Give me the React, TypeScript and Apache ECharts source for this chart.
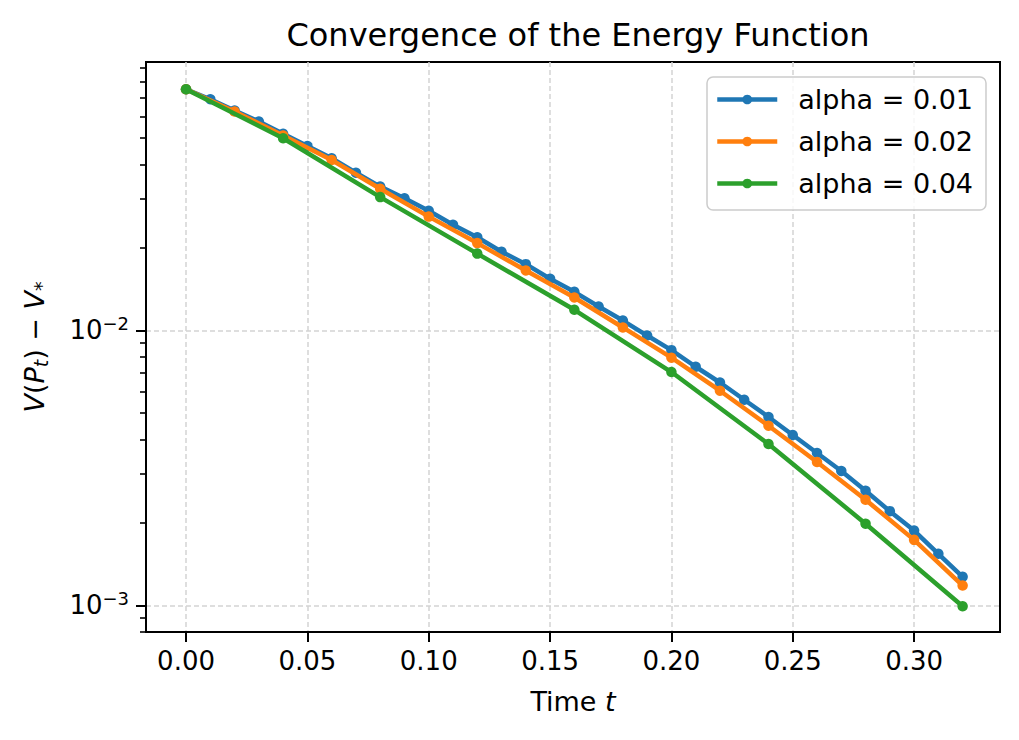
import React, { useEffect, useRef } from "react";
import * as echarts from "echarts";

const FONT = "DejaVu Sans";

const tAlpha001 = [0.0, 0.01, 0.02, 0.03, 0.04, 0.05, 0.06, 0.07, 0.08, 0.09, 0.1, 0.11, 0.12, 0.13, 0.14, 0.15, 0.16, 0.17, 0.18, 0.19, 0.2, 0.21, 0.22, 0.23, 0.24, 0.25, 0.26, 0.27, 0.28, 0.29, 0.3, 0.31, 0.32];
const vAlpha001 = [0.0752, 0.0692, 0.063, 0.0574, 0.0518, 0.0468, 0.0422, 0.0374, 0.0333, 0.0302, 0.0272, 0.0242, 0.0218, 0.0193, 0.0174, 0.0154, 0.0138, 0.0122, 0.01085, 0.00957, 0.00847, 0.00737, 0.00646, 0.00559, 0.00484, 0.00416, 0.00358, 0.00308, 0.00261, 0.0022, 0.00187, 0.00154, 0.00127];

const tAlpha002 = [0.0, 0.02, 0.04, 0.06, 0.08, 0.1, 0.12, 0.14, 0.16, 0.18, 0.2, 0.22, 0.24, 0.26, 0.28, 0.3, 0.32];
const vAlpha002 = [0.0752, 0.0624, 0.0511, 0.0416, 0.0327, 0.0259, 0.02075, 0.0165, 0.01316, 0.01024, 0.00795, 0.00603, 0.0045, 0.00332, 0.00242, 0.00173, 0.00118];

const tAlpha004 = [0.0, 0.04, 0.08, 0.12, 0.16, 0.2, 0.24, 0.28, 0.32];
const vAlpha004 = [0.0752, 0.0499, 0.0305, 0.019, 0.01187, 0.00705, 0.00386, 0.00198, 0.000992];

const seriesNames = ["alpha = 0.01", "alpha = 0.02", "alpha = 0.04"];
const seriesColors = ["#1f77b4", "#ff7f0e", "#2ca02c"];

const xTicks = [0.0, 0.05, 0.1, 0.15, 0.2, 0.25, 0.3];
const yMajorTicks = [0.001, 0.01];
const yMinorTicks = [0.0008, 0.0009, 0.002, 0.003, 0.004, 0.005, 0.006, 0.007, 0.008, 0.009, 0.02, 0.03, 0.04, 0.05, 0.06, 0.07, 0.08, 0.09];
const yTickLabels: Record<string, string> = { "0.001": "10{sup|−3}", "0.01": "10{sup|−2}" };

const X_MIN = -0.0165;
const X_MAX = 0.3354;
const Y_MIN = 0.0008;
const Y_MAX = 0.0945;

function pairs(xs: number[], ys: number[]) {
  return xs.map((x, i) => [x, ys[i]]);
}

export default function App() {
  const ref = useRef<HTMLDivElement>(null);
  useEffect(() => {
    if (!ref.current) return;
    const chart = echarts.init(ref.current, null, { renderer: "svg" });
    const gridLine = { show: true, lineStyle: { color: "#d4d4d4", width: 1.5, type: [5, 3] } };
    const datasets = [pairs(tAlpha001, vAlpha001), pairs(tAlpha002, vAlpha002), pairs(tAlpha004, vAlpha004)];
    chart.setOption({
      animation: false,
      backgroundColor: "#ffffff",
      textStyle: { fontFamily: FONT },
      title: {
        text: "Convergence of the Energy Function",
        left: 573,
        top: 14,
        textAlign: "center",
        textStyle: { fontFamily: FONT, fontSize: 32, fontWeight: "normal", color: "#000" },
      },
      grid: {
        left: 146,
        right: 19,
        top: 62,
        bottom: 108,
        show: true,
        borderColor: "#000",
        borderWidth: 2,
        backgroundColor: "transparent",
      },
      legend: {
        orient: "vertical",
        left: 707,
        top: 77,
        padding: [9, 13, 13, 8],
        itemGap: 15,
        itemWidth: 60,
        itemHeight: 12,
        backgroundColor: "rgba(255,255,255,0.8)",
        borderColor: "#cccccc",
        borderWidth: 1.5,
        borderRadius: 6,
        lineStyle: { width: 4.5 },
        textStyle: { fontFamily: FONT, fontSize: 27, color: "#000", padding: [0, 0, 0, 16] },
        data: seriesNames,
      },
      xAxis: {
        type: "value",
        min: X_MIN,
        max: X_MAX,
        name: "Time {it|t}",
        nameLocation: "middle",
        nameGap: 56,
        nameTextStyle: {
          fontFamily: FONT,
          fontSize: 27,
          color: "#000",
          rich: { it: { fontFamily: FONT, fontSize: 27, fontStyle: "italic", color: "#000" } },
        },
        axisLine: { show: true, onZero: false, lineStyle: { color: "#000", width: 2 } },
        axisTick: { show: true, length: 10, lineStyle: { color: "#000", width: 2 }, customValues: xTicks },
        axisLabel: {
          customValues: xTicks,
          margin: 16,
          fontFamily: FONT,
          fontSize: 26,
          color: "#000",
          formatter: (v: number) => v.toFixed(2),
        },
        splitLine: gridLine,
      },
      yAxis: [
        {
          type: "log",
          logBase: 10,
          min: Y_MIN,
          max: Y_MAX,
          position: "left",
          name: "{it|V}({it|P}{sub|t}) − {it|V}{sub|*}",
          nameLocation: "middle",
          nameRotate: 90,
          nameGap: 96,
          nameTextStyle: {
            fontFamily: FONT,
            fontSize: 27,
            color: "#000",
            rich: {
              it: { fontFamily: FONT, fontSize: 27, fontStyle: "italic", color: "#000" },
              sub: { fontFamily: FONT, fontSize: 19, fontStyle: "italic", color: "#000", padding: [12, 0, 0, 0] },
            },
          },
          axisLine: { show: true, onZero: false, lineStyle: { color: "#000", width: 2 } },
          axisTick: { show: true, length: 10, lineStyle: { color: "#000", width: 2 }, customValues: yMajorTicks },
          axisLabel: {
            customValues: yMajorTicks,
            margin: 17,
            fontFamily: FONT,
            fontSize: 26,
            color: "#000",
            formatter: (v: number) => yTickLabels[String(v)] ?? String(v),
            rich: {
              sup: { fontFamily: FONT, fontSize: 18, color: "#000", padding: [0, 0, 14, 0] },
            },
          },
          minorTick: { show: false },
          splitLine: gridLine,
        },
        {
          type: "log",
          logBase: 10,
          min: Y_MIN,
          max: Y_MAX,
          position: "left",
          axisLine: { show: false, onZero: false },
          axisTick: { show: true, length: 6, lineStyle: { color: "#000", width: 1.6 }, customValues: yMinorTicks },
          axisLabel: { show: false },
          splitLine: { show: false },
          minorTick: { show: false },
        },
      ],
      series: datasets.map((d, i) => ({
        type: "line",
        name: seriesNames[i],
        data: d,
        yAxisIndex: 0,
        symbol: "circle",
        symbolSize: 10.5,
        showSymbol: true,
        lineStyle: { color: seriesColors[i], width: 4.5 },
        itemStyle: { color: seriesColors[i] },
        emphasis: { disabled: true },
        z: 2 + i,
      })),
    });
    return () => chart.dispose();
  }, []);
  return (
    <div
      ref={ref}
      style={{ position: "fixed", left: 0, top: 0, width: 1019, height: 740, background: "#fff" }}
    />
  );
}
